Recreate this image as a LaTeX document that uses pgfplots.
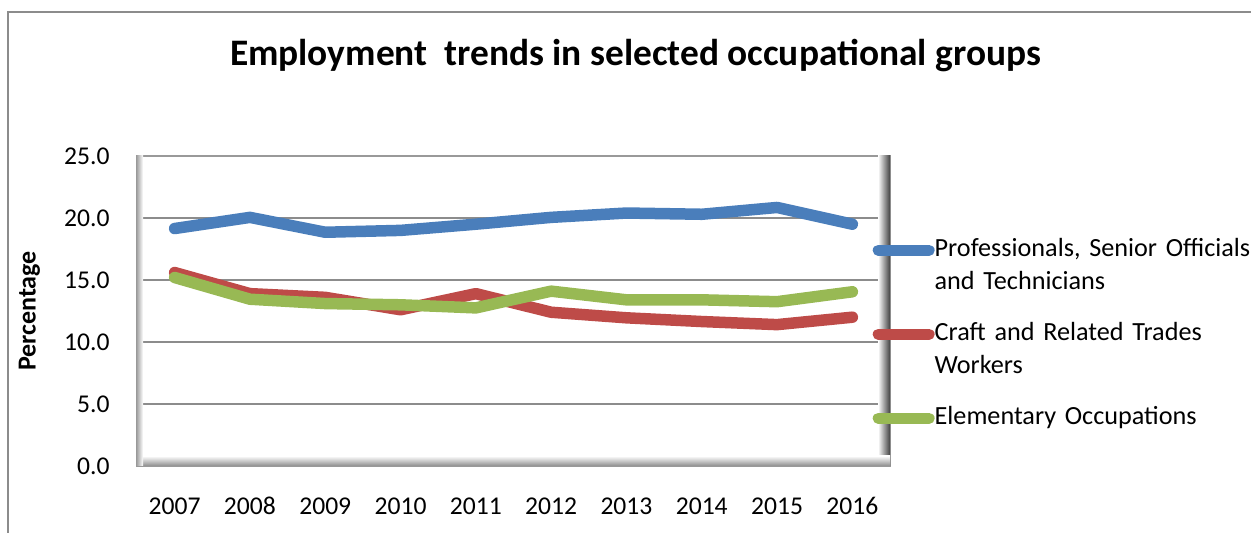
\documentclass[border=0pt]{standalone}
\usepackage{fontspec}
\setmainfont{Carlito}
\usepackage{pgfplots}
\pgfplotsset{compat=1.18}
\definecolor{cblue}{HTML}{4A7EBB}
\definecolor{cred}{HTML}{BE4B48}
\definecolor{cgreen}{HTML}{98B954}
\definecolor{gridc}{HTML}{8C8C8C}
\begin{document}
\begin{tikzpicture}[x=1pt,y=1pt]
% outer chart border (cropped at right and bottom)
\draw[color=gridc, line width=1pt] (4,-5) -- (4,260.5) -- (630,260.5);
\begin{axis}[
  at={(68.5pt,33.5pt)}, anchor=south west,
  scale only axis, width=376.5pt, height=155pt,
  xmin=-0.5, xmax=9.5, ymin=0, ymax=25,
  xtick={0,...,9},
  xticklabels={2007,2008,2009,2010,2011,2012,2013,2014,2015,2016},
  ytick={0,5,10,15,20,25},
  yticklabel style={/pgf/number format/fixed, /pgf/number format/fixed zerofill, /pgf/number format/precision=1},
  /pgf/number format/assume math mode=true,
  ymajorgrids, grid style={color=gridc, line width=0.75pt},
  major tick length=0pt,
  axis line style={color=gray!80, line width=1pt},
  tick label style={font=\fontsize{12.8}{15}\selectfont, text=black},
  every y tick label/.append style={inner sep=0pt, anchor=east, xshift=-13.5pt},
  every x tick label/.append style={inner sep=0pt, anchor=base, yshift=-24.5pt},
  ylabel={Percentage},
  ylabel style={font=\fontsize{13}{15}\selectfont\bfseries, at={(axis description cs:-0.1428,0.5)}, anchor=center},
  title={Employment\ \ trends in selected occupational groups},
  title style={font=\fontsize{18.7}{22}\selectfont\bfseries, at={(axis description cs:0.662,1.2516)}, anchor=base, yshift=0pt},
  legend style={at={(axis description cs:0.977,0.7347)}, anchor=north west, draw=none, fill=none,
    inner sep=0pt, outer sep=0pt, row sep=9pt, column sep=0pt,
    nodes={font=\fontsize{13.1}{16.5}\selectfont, text width=170pt, align=left, text height=9pt, text depth=24pt, inner sep=0pt}},
  legend cell align=left,
  legend image code/.code={\draw[#1, line width=5.5pt, line cap=round] (1.5pt,10.5pt) -- (27pt,10.5pt);},
  clip=false,
]
% bevel shading of plot area
\fill[left color=white, right color=black!75] ([xshift=-6pt]rel axis cs:1,0) rectangle (rel axis cs:1,1);
\fill[bottom color=black!45, top color=white] (rel axis cs:0,0) rectangle ([yshift=5pt]rel axis cs:1,0);
\fill[left color=gray!70, right color=white] (rel axis cs:0,0) rectangle ([xshift=3pt]rel axis cs:0,1);
\addplot[color=cblue, line width=5.75pt, line join=round, line cap=round] coordinates {
(0,19.15) (1,20.05) (2,18.85) (3,19.0) (4,19.5) (5,20.05) (6,20.4) (7,20.3) (8,20.85) (9,19.5)};
\addlegendentry{Professionals, Senior Officials\\and Technicians}
\addplot[color=cred, line width=5.75pt, line join=round, line cap=round] coordinates {
(0,15.6) (1,13.9) (2,13.6) (3,12.6) (4,13.9) (5,12.4) (6,11.95) (7,11.65) (8,11.4) (9,12.0)};
\addlegendentry{Craft and Related Trades\\Workers}
\addplot[color=cgreen, line width=5.75pt, line join=round, line cap=round] coordinates {
(0,15.2) (1,13.45) (2,13.1) (3,13.0) (4,12.75) (5,14.1) (6,13.4) (7,13.4) (8,13.25) (9,14.05)};
\addlegendentry{Elementary Occupations}
\end{axis}
\pgfresetboundingbox
\useasboundingbox (0,0) rectangle (625.5,266.5);
\end{tikzpicture}
\end{document}
